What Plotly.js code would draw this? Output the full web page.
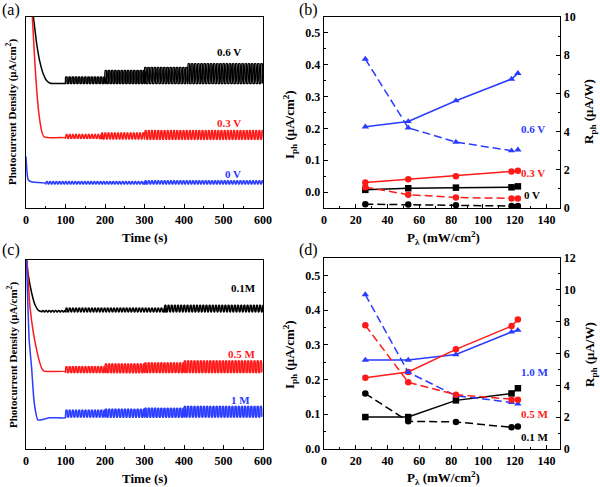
<!DOCTYPE html>
<html>
<head>
<meta charset="utf-8">
<script src="https://cdn.plot.ly/plotly-3.0.1.min.js"></script>
<style>html,body{margin:0;padding:0;background:#fff;}#chart{width:600px;height:487px;}</style>
</head>
<body>
<div id="chart"></div>
<script>
// ---------- Data: panel (a) time series (relative units; y axis unlabelled) ----------
const period = 8; // light on/off period, seconds
const a_black_decayT = [15, 19, 27, 35, 44, 52, 61, 80, 100];
const a_black_decayV = [1.05, 0.995, 0.86, 0.766, 0.70, 0.667, 0.653, 0.652, 0.652];
const a_black_segStart = [100, 200, 300, 410];
const a_black_segEnd = [200, 300, 410, 600];
const a_black_high = [0.685, 0.72, 0.735, 0.755];
const a_black_low = [0.652, 0.652, 0.652, 0.652];

const a_red_decayT = [14, 16, 23, 31.6, 40, 46, 60, 100];
const a_red_decayV = [1.05, 1.0, 0.74, 0.513, 0.40, 0.372, 0.368, 0.368];
const a_red_segStart = [100, 190, 300];
const a_red_segEnd = [190, 300, 600];
const a_red_high = [0.385, 0.393, 0.405];
const a_red_low = [0.365, 0.362, 0.36];

const a_blue_decayT = [0, 2, 5, 10, 20, 50];
const a_blue_decayV = [0.27, 0.20, 0.15, 0.14, 0.135, 0.13];
const a_blue_segStart = [50, 300];
const a_blue_segEnd = [300, 600];
const a_blue_high = [0.138, 0.142];
const a_blue_low = [0.126, 0.126];

// ---------- Data: panel (c) time series ----------
const c_black_decayT = [0, 5, 14.5, 23, 32, 40];
const c_black_decayV = [1.02, 0.93, 0.824, 0.762, 0.732, 0.726];
const c_black_segStart = [40, 100, 350];
const c_black_segEnd = [100, 350, 600];
const c_black_high = [0.732, 0.745, 0.76];
const c_black_low = [0.726, 0.726, 0.726];

const c_red_decayT = [2, 10, 19, 27, 33, 40, 46, 60, 100];
const c_red_decayV = [1.02, 0.753, 0.61, 0.524, 0.47, 0.427, 0.412, 0.41, 0.41];
const c_red_segStart = [100, 200, 300, 400];
const c_red_segEnd = [200, 300, 400, 600];
const c_red_high = [0.435, 0.45, 0.455, 0.465];
const c_red_low = [0.405, 0.405, 0.405, 0.405];

const c_blue_decayT = [1, 8, 14, 20, 25, 30, 40, 60, 100];
const c_blue_decayV = [1.02, 0.577, 0.435, 0.26, 0.19, 0.153, 0.155, 0.165, 0.165];
const c_blue_segStart = [100, 200, 300, 400];
const c_blue_segEnd = [200, 300, 400, 600];
const c_blue_high = [0.205, 0.21, 0.215, 0.225];
const c_blue_low = [0.17, 0.17, 0.17, 0.17];

// ---------- Data: panel (b) ----------
const P = [26, 53, 83, 118, 122];
const b_I_06 = [0.205, 0.222, 0.287, 0.355, 0.373];
const b_R_06 = [7.8, 4.2, 3.45, 3.0, 3.05];
const b_I_03 = [0.03, 0.04, 0.05, 0.065, 0.067];
const b_R_03 = [1.09, 0.7, 0.55, 0.5, 0.5];
const b_I_0 = [0.007, 0.012, 0.014, 0.015, 0.018];
const b_R_0 = [0.2, 0.18, 0.15, 0.1, 0.1];

// ---------- Data: panel (d) ----------
const d_I_1 = [0.256, 0.256, 0.272, 0.337, 0.342];
const d_R_1 = [9.7, 4.82, 3.35, 2.93, 2.83];
const d_I_05 = [0.205, 0.222, 0.287, 0.354, 0.373];
const d_R_05 = [7.77, 4.19, 3.41, 3.1, 3.1];
const d_I_01 = [0.092, 0.092, 0.140, 0.16, 0.175];
const d_R_01 = [3.48, 1.74, 1.7, 1.36, 1.42];

// ---------- Build traces ----------
const BLACK = '#000000', RED = '#ff1a1a', BLUE = '#2a3cff';

function transient(dT, dV, s0, s1, hi, lo, ramp) {
  const x = dT.slice(), y = dV.slice();
  for (let k = 0; k < s0.length; k++) {
    for (let t = s0[k]; t < s1[k] - 0.01; t += period) {
      x.push(t, t + ramp, t + period / 2, t + period / 2 + ramp);
      y.push(lo[k], hi[k], hi[k], lo[k]);
    }
  }
  return {x, y};
}
function tsTrace(d, color, xa, ya) {
  return {x: d.x, y: d.y, type: 'scatter', mode: 'lines', xaxis: xa, yaxis: ya,
    line: {color: color, width: 1.5, shape: 'spline', smoothing: 0.4}, showlegend: false, hoverinfo: 'skip'};
}
function ptTrace(y, color, sym, dash, xa, ya) {
  return {x: P, y: y, type: 'scatter', mode: 'lines+markers', xaxis: xa, yaxis: ya,
    line: {color: color, width: 1.5, dash: dash}, marker: {color: color, symbol: sym, size: 6.5},
    showlegend: false};
}

const traces = [
  tsTrace(transient(a_black_decayT, a_black_decayV, a_black_segStart, a_black_segEnd, a_black_high, a_black_low, 0.6), BLACK, 'x', 'y'),
  tsTrace(transient(a_red_decayT, a_red_decayV, a_red_segStart, a_red_segEnd, a_red_high, a_red_low, 1.8), RED, 'x', 'y'),
  tsTrace(transient(a_blue_decayT, a_blue_decayV, a_blue_segStart, a_blue_segEnd, a_blue_high, a_blue_low, 1.8), BLUE, 'x', 'y'),

  ptTrace(b_I_06, BLUE, 'triangle-up', 'solid', 'x2', 'y2'),
  ptTrace(b_I_03, RED, 'circle', 'solid', 'x2', 'y2'),
  ptTrace(b_I_0, BLACK, 'square', 'solid', 'x2', 'y2'),
  ptTrace(b_R_06, BLUE, 'triangle-up', '8px,4px', 'x2', 'y3'),
  ptTrace(b_R_03, RED, 'circle', '8px,4px', 'x2', 'y3'),
  ptTrace(b_R_0, BLACK, 'circle', '8px,4px', 'x2', 'y3'),

  tsTrace(transient(c_black_decayT, c_black_decayV, c_black_segStart, c_black_segEnd, c_black_high, c_black_low, 1.8), BLACK, 'x3', 'y4'),
  tsTrace(transient(c_red_decayT, c_red_decayV, c_red_segStart, c_red_segEnd, c_red_high, c_red_low, 1.2), RED, 'x3', 'y4'),
  tsTrace(transient(c_blue_decayT, c_blue_decayV, c_blue_segStart, c_blue_segEnd, c_blue_high, c_blue_low, 1.2), BLUE, 'x3', 'y4'),

  ptTrace(d_I_1, BLUE, 'triangle-up', 'solid', 'x4', 'y5'),
  ptTrace(d_I_05, RED, 'circle', 'solid', 'x4', 'y5'),
  ptTrace(d_I_01, BLACK, 'square', 'solid', 'x4', 'y5'),
  ptTrace(d_R_1, BLUE, 'triangle-up', '8px,4px', 'x4', 'y6'),
  ptTrace(d_R_05, RED, 'circle', '8px,4px', 'x4', 'y6'),
  ptTrace(d_R_01, BLACK, 'circle', '8px,4px', 'x4', 'y6')
];

// ---------- Layout ----------
const SERIF = 'Liberation Serif, Times New Roman, serif';
const tickFont = {family: SERIF, size: 12, color: '#000', weight: 'bold'};
function ax(extra) {
  return Object.assign({showline: true, linecolor: '#000', linewidth: 1.3, ticks: 'inside',
    ticklen: 4, tickwidth: 1, tickcolor: '#000', showgrid: false, zeroline: false,
    tickfont: tickFont, fixedrange: true}, extra);
}
const W = 600, H = 487;
const px = v => v / W, py = v => 1 - v / H;
const dAx = [px(26), px(263)], dBx = [px(324), px(560)];
const dTop = [py(208), py(17)], dBotC = [py(449), py(260)], dBotD = [py(449), py(258)];

const layout = {
  width: W, height: H, margin: {l: 0, r: 0, t: 0, b: 0},
  paper_bgcolor: '#fff', plot_bgcolor: '#fff', showlegend: false,
  font: {family: SERIF, size: 12, color: '#000'},
  xaxis: ax({domain: dAx, anchor: 'y', range: [0, 600], dtick: 100, mirror: true,
    minor: {dtick: 50, ticks: 'inside', ticklen: 2, tickcolor: '#000'}}),
  yaxis: ax({domain: dTop, anchor: 'x', range: [0, 1], showticklabels: false, ticks: '', mirror: true}),
  xaxis2: ax({domain: dBx, anchor: 'y2', range: [0, 148.5], dtick: 20, mirror: true,
    minor: {dtick: 10, ticks: 'inside', ticklen: 2, tickcolor: '#000'}}),
  yaxis2: ax({domain: dTop, anchor: 'x2', range: [-0.05, 0.55], dtick: 0.1, tick0: 0, tickformat: '.1f',
    minor: {dtick: 0.05, ticks: 'inside', ticklen: 2, tickcolor: '#000'}}),
  yaxis3: ax({overlaying: 'y2', anchor: 'x2', side: 'right', range: [0, 10], dtick: 2,
    minor: {dtick: 1, ticks: 'inside', ticklen: 2, tickcolor: '#000'}}),
  xaxis3: ax({domain: dAx, anchor: 'y4', range: [0, 600], dtick: 100, mirror: true,
    minor: {dtick: 50, ticks: 'inside', ticklen: 2, tickcolor: '#000'}}),
  yaxis4: ax({domain: dBotC, anchor: 'x3', range: [0, 1], showticklabels: false, ticks: '', mirror: true}),
  xaxis4: ax({domain: dBx, anchor: 'y5', range: [0, 148.5], dtick: 20, mirror: true,
    minor: {dtick: 10, ticks: 'inside', ticklen: 2, tickcolor: '#000'}}),
  yaxis5: ax({domain: dBotD, anchor: 'x4', range: [0, 0.55], dtick: 0.1, tickformat: '.1f',
    minor: {dtick: 0.05, ticks: 'inside', ticklen: 2, tickcolor: '#000'}}),
  yaxis6: ax({overlaying: 'y5', anchor: 'x4', side: 'right', range: [0, 12], dtick: 2,
    minor: {dtick: 1, ticks: 'inside', ticklen: 2, tickcolor: '#000'}}),
  annotations: []
};

function note(text, x, y, opts) {
  layout.annotations.push(Object.assign({text: text, xref: 'paper', yref: 'paper', x: px(x), y: py(y),
    showarrow: false, xanchor: 'center', yanchor: 'middle',
    font: {family: SERIF, size: 12, color: '#000', weight: 'bold'}}, opts || {}));
}
const boldFont = (s, c) => ({family: SERIF, size: s, color: c || '#000', weight: 'bold'});
// panel letters
note('(a)', 11, 10, {font: {family: SERIF, size: 16, color: '#000'}});
note('(b)', 308, 10, {font: {family: SERIF, size: 16, color: '#000'}});
note('(c)', 11, 250, {font: {family: SERIF, size: 16, color: '#000'}});
note('(d)', 308, 250, {font: {family: SERIF, size: 16, color: '#000'}});
// axis titles
note('Time (s)', 145, 237, {font: boldFont(13)});
note('Time (s)', 145, 478, {font: boldFont(13)});
note('P<sub>λ</sub> (mW/cm<sup>2</sup>)', 443, 238, {font: boldFont(13)});
note('P<sub>λ</sub> (mW/cm<sup>2</sup>)', 443, 478, {font: boldFont(13)});
note('Photocurrent Density (μA/cm<sup>2</sup>)', 12, 112, {textangle: -90, font: boldFont(11)});
note('Photocurrent Density (μA/cm<sup>2</sup>)', 12, 355, {textangle: -90, font: boldFont(11)});
note('I<sub>ph</sub> (μA/cm<sup>2</sup>)', 290, 125, {textangle: -90, font: boldFont(13)});
note('I<sub>ph</sub> (μA/cm<sup>2</sup>)', 290, 355, {textangle: -90, font: boldFont(13)});
note('R<sub>ph</sub> (μA/W)', 590, 112, {textangle: -90, font: boldFont(13)});
note('R<sub>ph</sub> (μA/W)', 590, 355, {textangle: -90, font: boldFont(13)});
// series labels
note('0.6 V', 229, 52, {font: boldFont(11, BLACK)});
note('0.3 V', 229, 123, {font: boldFont(11, RED)});
note('0 V', 233, 174, {font: boldFont(11, BLUE)});
note('0.1M', 243, 288, {font: boldFont(11, BLACK)});
note('0.5 M', 242, 354, {font: boldFont(11, RED)});
note('1 M', 240, 400, {font: boldFont(11, BLUE)});
note('0.6 V', 533, 129, {font: boldFont(11, BLUE)});
note('0.3 V', 533, 173, {font: boldFont(11, RED)});
note('0 V', 532, 195, {font: boldFont(11, BLACK)});
note('1.0 M', 535, 372, {font: boldFont(11, BLUE)});
note('0.5 M', 535, 414, {font: boldFont(11, RED)});
note('0.1 M', 535, 437, {font: boldFont(11, BLACK)});

Plotly.newPlot('chart', traces, layout, {staticPlot: true, displayModeBar: false});
</script>
</body>
</html>
